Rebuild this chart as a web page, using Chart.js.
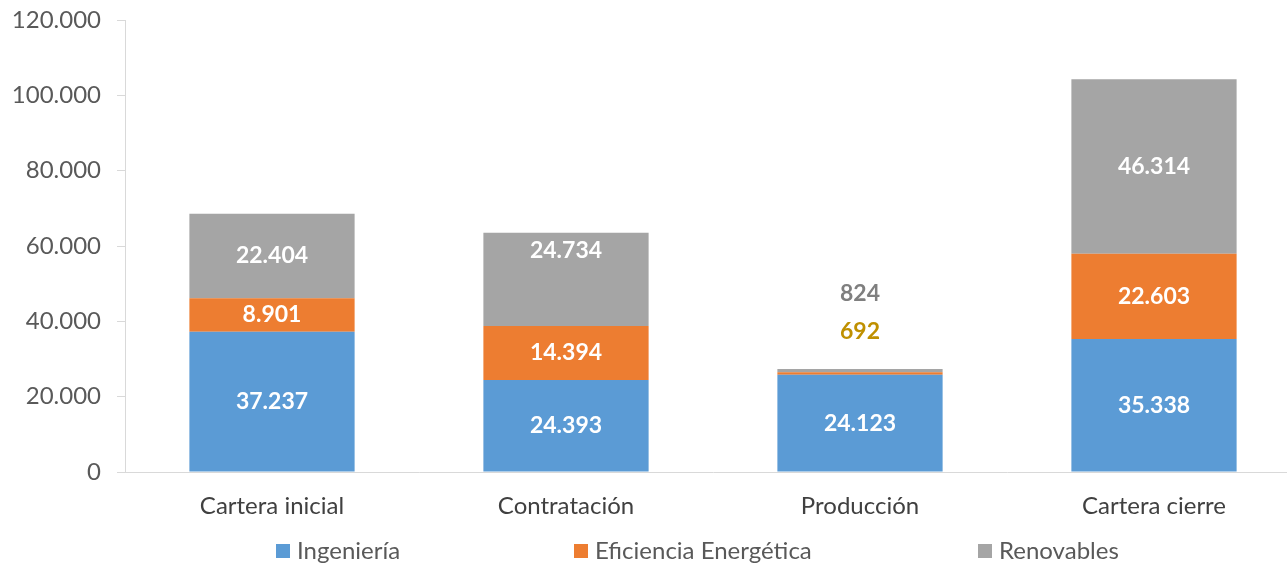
<!DOCTYPE html>
<html>
<head>
<meta charset="utf-8">
<script src="https://cdn.jsdelivr.net/npm/chart.js@4/dist/chart.umd.min.js"></script>
<style>
  html, body { margin: 0; padding: 0; background: #fff; overflow: hidden; }
  #wrap { position: absolute; left: 0; top: 0; }
</style>
</head>
<body>
<div id="wrap"><canvas id="cartera" width="1301" height="564"></canvas></div>
<script>
// categorías y series (valores en miles)
const categories = ["Cartera inicial", "Contratación", "Producción", "Cartera cierre"];
const ingenieria = [37237, 24393, 25800, 35338];
const eficiencia = [8901, 14394, 692, 22603];
const renovables = [22404, 24734, 824, 46314];

// cifras que se imprimen sobre las barras
const ingenieriaText = [37237, 24393, 24123, 35338];
const eficienciaText = [8901, 14394, 692, 22603];
const renovablesText = [22404, 24734, 824, 46314];

const yTicks = [0, 20000, 40000, 60000, 80000, 100000, 120000];

const FONT = "Lato, 'Open Sans', sans-serif";

// formato español: 120.000
function fmt(n) {
    return String(Math.round(n)).replace(/\B(?=(\d{3})+(?!\d))/g, ".");
}

// ajustes de etiquetas que no van centradas en su segmento
const labelTweaks = {
    "2-1": { dy: -29 },
    "1-2": { dy: -42, color: "#bf9000" },
    "2-2": { dy: -77, color: "#7f7f7f" }
};

const valueLabels = {
    id: "valueLabels",
    afterDatasetsDraw(chart) {
        const ctx = chart.ctx;
        ctx.save();
        ctx.font = "bold 23px " + FONT;
        ctx.textAlign = "center";
        ctx.textBaseline = "middle";
        chart.data.datasets.forEach((ds, di) => {
            const meta = chart.getDatasetMeta(di);
            meta.data.forEach((bar, i) => {
                const t = labelTweaks[di + "-" + i] || {};
                const y = (bar.y + bar.base) / 2 + (t.dy || 0);
                ctx.fillStyle = t.color || "#ffffff";
                ctx.fillText(fmt(ds.printed[i]), bar.x, y);
            });
        });
        ctx.restore();
    }
};

// leyenda repartida como en el original
const legendX = [276, 574, 978];
const wideLegend = {
    id: "wideLegend",
    afterDraw(chart) {
        const ctx = chart.ctx;
        ctx.save();
        ctx.font = "24px " + FONT;
        ctx.textBaseline = "middle";
        ctx.textAlign = "left";
        chart.data.datasets.forEach((ds, di) => {
            const x = legendX[di];
            ctx.fillStyle = ds.backgroundColor;
            ctx.fillRect(x, 544, 14, 14);
            ctx.fillStyle = "#595959";
            ctx.fillText(ds.label, x + 21, 551);
        });
        ctx.restore();
    }
};

const ctx = document.getElementById("cartera").getContext("2d");
new Chart(ctx, {
    type: "bar",
    data: {
        labels: categories,
        datasets: [
            { label: "Ingeniería", data: ingenieria, printed: ingenieriaText, backgroundColor: "#5b9bd5" },
            { label: "Eficiencia Energética", data: eficiencia, printed: eficienciaText, backgroundColor: "#ed7d31" },
            { label: "Renovables", data: renovables, printed: renovablesText, backgroundColor: "#a5a5a5" }
        ]
    },
    options: {
        responsive: false,
        animation: false,
        layout: { padding: { top: 20, right: 0, bottom: 0, left: 0 } },
        datasets: { bar: { categoryPercentage: 1, barPercentage: 0.562, borderWidth: 0 } },
        plugins: {
            legend: { display: false },
            tooltip: { enabled: false }
        },
        scales: {
            x: {
                stacked: true,
                afterFit: s => { s.height = 92; s.paddingLeft = 0; s.paddingRight = 0; },
                grid: { display: true, drawOnChartArea: false, drawTicks: false },
                border: { display: true, color: "#d9d9d9", width: 1 },
                ticks: { color: "#404040", font: { family: FONT, size: 24 }, padding: 20 }
            },
            y: {
                stacked: true,
                min: 0,
                max: 120000,
                afterFit: s => { s.width = 125; s.paddingTop = 0; s.paddingBottom = 0; },
                afterBuildTicks: s => { s.ticks = yTicks.map(v => ({ value: v })); },
                grid: { display: true, drawOnChartArea: false, drawTicks: true, tickLength: 8, color: "#d9d9d9" },
                border: { display: true, color: "#d9d9d9", width: 1 },
                ticks: {
                    color: "#595959",
                    font: { family: FONT, size: 24 },
                    padding: 16,
                    callback: v => fmt(v)
                }
            }
        }
    },
    plugins: [valueLabels, wideLegend]
});
</script>
</body>
</html>
